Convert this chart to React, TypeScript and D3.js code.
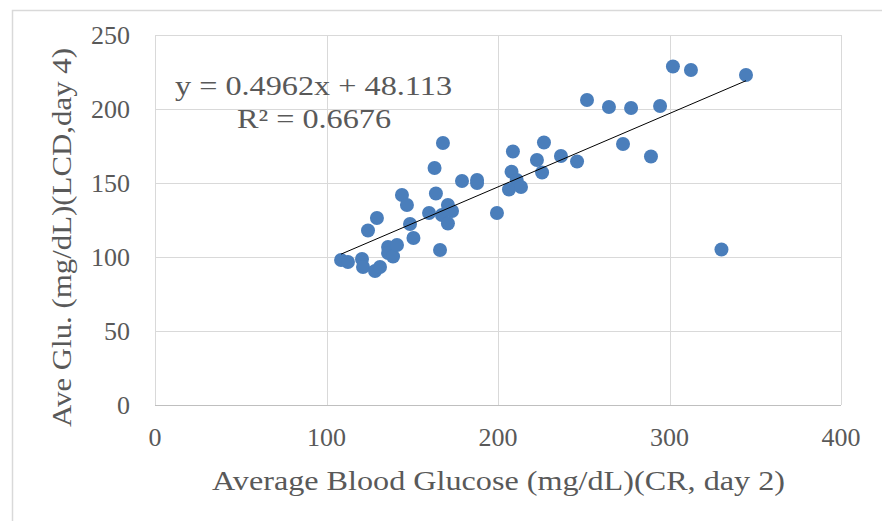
import React, { useEffect, useRef } from "react";
import * as d3 from "d3";

// CR day 2 (x) vs LCD day 4 (y), mg/dL
const crDay2 = [
  108.5, 112.5, 120.7, 121.3, 128.3, 131.2, 124.2, 129.4, 135.9, 135.9,
  138.8, 141.1, 144.0, 146.9, 148.7, 150.7, 159.8, 163.0, 163.8, 167.9,
  166.2, 167.3, 170.8, 173.2, 170.8, 179.0, 187.8, 187.8, 199.4, 208.7,
  207.9, 210.9, 206.4, 213.4, 226.8, 222.7, 225.7, 236.7, 246.1, 251.9,
  264.7, 277.6, 294.5, 272.9, 289.2, 302.0, 312.5, 344.6, 330.3,
];
const lcdDay4 = [
  98.0, 96.6, 98.6, 93.2, 90.5, 93.2, 117.9, 126.4, 106.8, 102.7,
  100.3, 108.1, 141.9, 135.1, 122.3, 112.8, 129.7, 160.1, 142.9, 177.0,
  104.7, 128.4, 135.1, 131.1, 122.6, 151.4, 152.0, 150.0, 129.7, 171.3,
  157.6, 152.0, 145.6, 147.3, 177.4, 165.5, 157.1, 168.2, 164.5, 206.1,
  201.4, 200.7, 202.0, 176.4, 167.9, 228.7, 226.4, 223.0, 105.1,
];

const xTicks = [0, 100, 200, 300, 400];
const yTicks = [0, 50, 100, 150, 200, 250];

const slope = 0.4962;
const intercept = 48.113;
const eqLabel = "y = 0.4962x + 48.113";
const r2Label = "R² = 0.6676";

const xTitle = "Average Blood Glucose (mg/dL)(CR, day 2)";
const yTitle = "Ave Glu. (mg/dL)(LCD,day 4)";

export default function App() {
  const ref = useRef<SVGSVGElement>(null);

  useEffect(() => {
    const svg = d3.select(ref.current);
    svg.selectAll("*").remove();

    const font = "'Liberation Serif', serif";
    const textColor = "#595959";
    const grid = "#d9d9d9";

    const x = d3.scaleLinear().domain([0, 400]).range([155, 841]);
    const y = d3.scaleLinear().domain([0, 250]).range([405, 35]);

    // chart frame
    svg.append("rect")
      .attr("x", 12.5).attr("y", 10.5)
      .attr("width", 900).attr("height", 600)
      .attr("fill", "#fff")
      .attr("stroke", grid)
      .attr("stroke-width", 1.5);

    // gridlines
    svg.append("g").selectAll("line").data(yTicks).join("line")
      .attr("x1", x(0)).attr("x2", x(400))
      .attr("y1", d => Math.round(y(d)) + 0.5).attr("y2", d => Math.round(y(d)) + 0.5)
      .attr("stroke", d => d === 0 ? "#bfbfbf" : grid);
    svg.append("g").selectAll("line").data(xTicks).join("line")
      .attr("y1", y(0)).attr("y2", y(250))
      .attr("x1", d => Math.round(x(d)) + 0.5).attr("x2", d => Math.round(x(d)) + 0.5)
      .attr("stroke", grid);

    // tick labels
    svg.append("g").selectAll("text").data(yTicks).join("text")
      .attr("x", 130).attr("y", d => y(d))
      .attr("text-anchor", "end").attr("dominant-baseline", "central")
      .attr("font-family", font).attr("font-size", 26).attr("fill", textColor)
      .text(d => d);
    svg.append("g").selectAll("text").data(xTicks).join("text")
      .attr("x", d => x(d)).attr("y", 437)
      .attr("text-anchor", "middle").attr("dominant-baseline", "central")
      .attr("font-family", font).attr("font-size", 26).attr("fill", textColor)
      .text(d => d);

    // axis titles
    svg.append("text")
      .attr("x", 498.5).attr("y", 481)
      .attr("text-anchor", "middle").attr("dominant-baseline", "central")
      .attr("font-family", font).attr("font-size", 27).attr("fill", textColor)
      .attr("textLength", 573).attr("lengthAdjust", "spacingAndGlyphs")
      .text(xTitle);
    svg.append("text")
      .attr("transform", "translate(62,237.5) rotate(-90)")
      .attr("text-anchor", "middle").attr("dominant-baseline", "central")
      .attr("font-family", font).attr("font-size", 27).attr("fill", textColor)
      .attr("textLength", 379).attr("lengthAdjust", "spacingAndGlyphs")
      .text(yTitle);

    // points
    const pts = crDay2.map((v, i) => [v, lcdDay4[i]]);
    svg.append("g").selectAll("circle").data(pts).join("circle")
      .attr("cx", d => x(d[0])).attr("cy", d => y(d[1]))
      .attr("r", 7)
      .attr("fill", "#4a7ebb");

    // linear trendline
    const [x0, x1] = d3.extent(crDay2) as [number, number];
    svg.append("line")
      .attr("x1", x(x0)).attr("y1", y(slope * x0 + intercept))
      .attr("x2", x(x1)).attr("y2", y(slope * x1 + intercept))
      .attr("stroke", "#000").attr("stroke-width", 1);

    // equation
    svg.append("text")
      .attr("x", 175).attr("y", 95)
      .attr("font-family", font).attr("font-size", 27).attr("fill", textColor)
      .attr("textLength", 277).attr("lengthAdjust", "spacingAndGlyphs")
      .text(eqLabel);
    svg.append("text")
      .attr("x", 237).attr("y", 128)
      .attr("font-family", font).attr("font-size", 27).attr("fill", textColor)
      .attr("textLength", 154).attr("lengthAdjust", "spacingAndGlyphs")
      .text(r2Label);
  }, []);

  return (
    <svg
      ref={ref}
      width={882}
      height={521}
      style={{ position: "absolute", left: 0, top: 0, background: "#fff" }}
    />
  );
}
